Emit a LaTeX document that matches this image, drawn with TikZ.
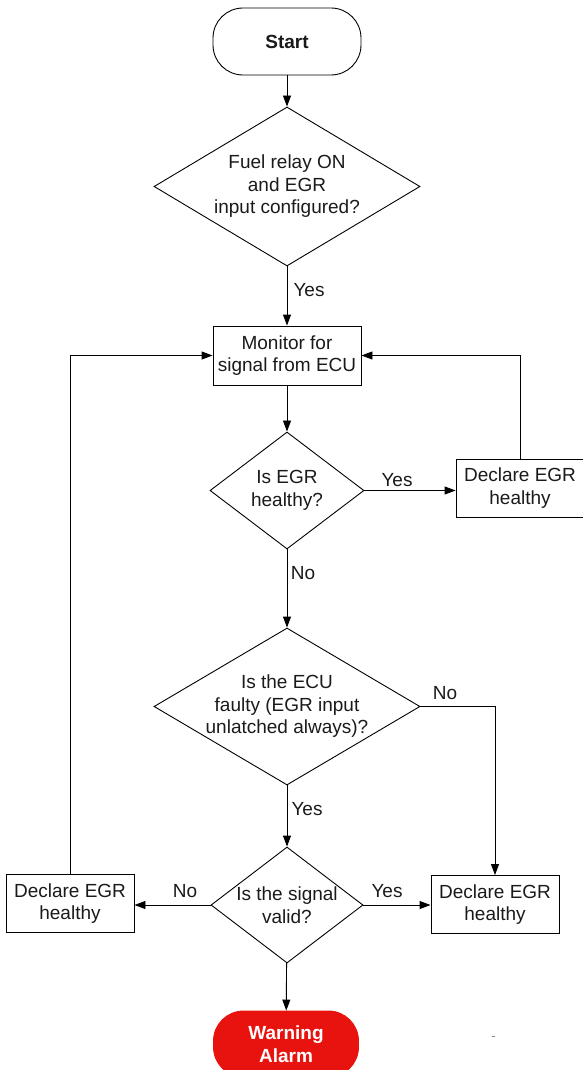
\documentclass[tikz,border=0pt]{standalone}
\usepackage{fontspec}
\setmainfont{Liberation Sans}
\usetikzlibrary{shapes.geometric,arrows.meta}
\definecolor{alarmred}{HTML}{E8130F}
\definecolor{inkc}{HTML}{1A1A1A}
\begin{document}
\begin{tikzpicture}[x=1pt,y=-1pt,
  every node/.style={font=\fontsize{19}{22.5}\selectfont, text=inkc},
  conn/.style={draw=black, line width=0.9pt, -{Triangle[length=11pt,width=8pt]}},
  box/.style={draw=black, line width=0.9pt, rectangle, inner sep=0pt, align=center},
  dia/.style={draw=black, line width=0.9pt, diamond, inner sep=0pt},
  txt/.style={align=center, inner sep=0pt},
  lbl/.style={inner sep=0pt},
  terminal/.style={draw=black, line width=0.9pt, rectangle, rounded corners=30pt, inner sep=0pt, align=center, font=\fontsize{19}{22.5}\selectfont\bfseries}
]
\useasboundingbox (0,0) rectangle (582,1070);

% nodes
\node[terminal, minimum width=148pt, minimum height=67pt] (start) at (287,41.5) {Start};
\node[dia, minimum width=266pt, minimum height=159pt] (d1) at (287,186.5) {};
\node[txt] (t1) at (d1) {Fuel relay ON\\and EGR\\input configured?};
\node[box, minimum width=148pt, minimum height=59pt] (mon) at (287,355.5) {Monitor for\\signal from ECU};
\node[dia, minimum width=154pt, minimum height=117pt] (d2) at (287,490.5) {};
\node[txt] (t2) at (d2) {Is EGR\\healthy?};
\node[box, minimum width=128pt, minimum height=58pt] (r1) at (520,488) {Declare EGR\\healthy};
\node[dia, minimum width=266pt, minimum height=157pt] (d3) at (287,706.5) {};
\node[txt] (t3) at (d3) {Is the ECU\\faulty (EGR input\\unlatched always)?};
\node[dia, minimum width=152pt, minimum height=116pt] (d4) at (287,905) {};
\node[txt] (t4) at (d4) {Is the signal\\valid?};
\node[box, minimum width=128pt, minimum height=58pt] (r2) at (495,904.5) {Declare EGR\\healthy};
\node[box, minimum width=128pt, minimum height=58pt] (l1) at (70,903.5) {Declare EGR\\healthy};
\node[terminal, draw=alarmred, fill=alarmred, text=white, minimum width=145pt, minimum height=66pt, rounded corners=30pt] (warn) at (286,1044) {Warning\\Alarm};

% labels
\node[lbl] (yes1) at (309,290) {Yes};
\node[lbl] (yes2) at (397,480) {Yes};
\node[lbl] (no1) at (303,573) {No};
\node[lbl] (no2) at (445,693) {No};
\node[lbl] (yes3) at (307,809) {Yes};
\node[lbl] (yes4) at (387,891) {Yes};
\node[lbl] (no3) at (185,891) {No};

% connectors
\draw[conn] (start) -- (d1);
\draw[conn] (d1) -- (mon);
\draw[conn] (mon) -- (d2);
\draw[conn] (d2.east) -- (d2.east -| r1.west);
\draw[conn] (r1.north) |- (mon.east);
\draw[conn] (d2) -- (d3);
\draw[conn] (d3.east) -| (r2.north);
\draw[conn] (d3) -- (d4);
\draw[conn] (d4.east) -- (d4.east -| r2.west);
\draw[conn] (d4.west) -- (d4.west -| l1.east);
\draw[conn] (l1.north) |- (mon.west);
\draw[conn] (d4) -- (warn);

% stray mark
\draw[gray, line width=1pt] (492,1036) -- (495,1036);
\end{tikzpicture}
\end{document}
